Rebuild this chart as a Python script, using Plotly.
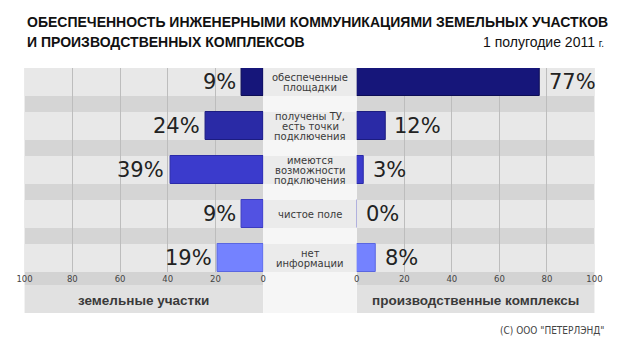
import plotly.graph_objects as go

# ---- data ----
categories = [
    ["обеспеченные", "площадки"],
    ["получены ТУ,", "есть точки", "подключения"],
    ["имеются", "возможности", "подключения"],
    ["чистое поле"],
    ["нет", "информации"],
]
land_plots = [9, 24, 39, 9, 19]          # земельные участки
industrial = [77, 12, 3, 0, 8]           # производственные комплексы
bar_colors = ["#16167a", "#2a2aa6", "#3b3bcc", "#5252e2", "#7482ff"]
line_colors = ["#0d0d55", "#1c1c80", "#2a2aa8", "#3c3cc0", "#5a66e0"]
tick_vals = [0, 20, 40, 60, 80, 100]
title_lines = ["ОБЕСПЕЧЕННОСТЬ ИНЖЕНЕРНЫМИ КОММУНИКАЦИЯМИ ЗЕМЕЛЬНЫХ УЧАСТКОВ",
               "И ПРОИЗВОДСТВЕННЫХ КОМПЛЕКСОВ"]
period = "1 полугодие 2011 <span style='font-size:10px'>г.</span>"
panel_names = ["земельные участки", "производственные комплексы"]
copyright_txt = '(C) ООО "ПЕТЕРЛЭНД"'

W, H = 620, 345
def px(x):
    return x / W
def py(y):
    return 1 - y / H

rows = list(range(len(categories)))
half = 0.318

fig = go.Figure()
fig.add_trace(go.Bar(y=rows, x=land_plots, orientation="h", width=2 * half,
                     marker=dict(color=bar_colors, line=dict(color=line_colors, width=1)),
                     xaxis="x", yaxis="y", hoverinfo="skip"))
fig.add_trace(go.Bar(y=rows, x=industrial, orientation="h", width=2 * half,
                     marker=dict(color=bar_colors, line=dict(color=line_colors, width=1)),
                     xaxis="x2", yaxis="y2", hoverinfo="skip"))

L0, L1, R0, R1 = 17, 262, 358, 602
TOP, BOT = 68, 272

axis_common = dict(tickvals=tick_vals, showgrid=True, gridcolor="#bdbdbd", gridwidth=1,
                   zeroline=False, showline=False, ticks="",
                   tickfont=dict(family="DejaVu Sans", size=8.5, color="#444"),
                   fixedrange=True)
yaxis_common = dict(range=[len(rows) - 1 + half, -half], showgrid=False, zeroline=False,
                    showticklabels=False, ticks="", fixedrange=True,
                    domain=[py(BOT), py(TOP)])

fig.update_layout(
    width=W, height=H, margin=dict(l=0, r=0, t=0, b=0),
    paper_bgcolor="white", plot_bgcolor="rgba(0,0,0,0)",
    showlegend=False, bargap=0,
    xaxis=dict(domain=[px(L0), px(L1)], range=[100, 0], anchor="y", **axis_common),
    xaxis2=dict(domain=[px(R0), px(R1)], range=[0, 100], anchor="y2", **axis_common),
    yaxis=dict(anchor="x", **yaxis_common),
    yaxis2=dict(anchor="x2", **yaxis_common),
)

shapes = []
for a, b in [(L0, L1), (R0, R1)]:
    shapes.append(dict(type="rect", xref="paper", yref="paper", x0=px(a), x1=px(b),
                       y0=py(BOT), y1=py(TOP), fillcolor="#d5d5d5", line_width=0, layer="below"))
    shapes.append(dict(type="rect", xref="paper", yref="paper", x0=px(a), x1=px(b),
                       y0=py(285), y1=py(BOT), fillcolor="#d3d3d3", line_width=0, layer="below"))
    shapes.append(dict(type="rect", xref="paper", yref="paper", x0=px(a), x1=px(b),
                       y0=py(313), y1=py(285), fillcolor="#e1e1e1", line_width=0, layer="below"))
shapes.append(dict(type="rect", xref="paper", yref="paper", x0=px(L1), x1=px(R0),
                   y0=py(313), y1=py(TOP), fillcolor="#f6f6f6", line_width=0, layer="below"))
for i in rows:
    for xr in ["x domain", "x2 domain"]:
        shapes.append(dict(type="rect", xref=xr, yref="y", x0=0, x1=1,
                           y0=i - half, y1=i + half, fillcolor="#e8e8e8",
                           line_width=0, layer="below"))
    shapes.append(dict(type="rect", xref="paper", yref="y", x0=px(L1), x1=px(R0),
                       y0=i - half, y1=i + half, fillcolor="#ebebeb",
                       line_width=0, layer="below"))
fig.update_layout(shapes=shapes)

ann = []
pct_font = dict(family="DejaVu Sans", size=21, color="#222")
for i in rows:
    ann.append(dict(x=land_plots[i], y=i, xref="x", yref="y", text=f"{land_plots[i]}%",
                    xanchor="right", yanchor="middle", xshift=-4, showarrow=False, font=pct_font))
    ann.append(dict(x=industrial[i], y=i, xref="x2", yref="y2", text=f"{industrial[i]}%",
                    xanchor="left", yanchor="middle", xshift=7, showarrow=False, font=pct_font))
    lines = categories[i]
    n = len(lines)
    for k, t in enumerate(lines):
        ann.append(dict(x=px((L1 + R0) / 2), y=i, xref="paper", yref="y", text=t,
                        xanchor="center", yanchor="middle", showarrow=False,
                        yshift=-(k - (n - 1) / 2) * 10 - 0.5,
                        font=dict(family="DejaVu Sans", size=10, color="#3a3a3a")))

title_font = dict(family="Liberation Sans, Arial", size=14, color="#111")
ann.append(dict(x=px(17), y=py(22), xref="paper", yref="paper", text=f"<b>{title_lines[0]}</b>",
                xanchor="left", yanchor="middle", showarrow=False, font=title_font))
ann.append(dict(x=px(17), y=py(42), xref="paper", yref="paper", text=f"<b>{title_lines[1]}</b>",
                xanchor="left", yanchor="middle", showarrow=False, font=title_font))
ann.append(dict(x=px(614), y=py(42), xref="paper", yref="paper", text=period,
                xanchor="right", yanchor="middle", showarrow=False,
                font=dict(family="Liberation Sans, Arial", size=14, color="#111")))
for name, (a, b) in zip(panel_names, [(L0, L1), (R0, R1)]):
    ann.append(dict(x=px((a + b) / 2), y=py(300), xref="paper", yref="paper",
                    text=f"<b>{name}</b>", xanchor="center", yanchor="middle", showarrow=False,
                    font=dict(family="Liberation Sans, Arial", size=13.5, color="#3a3a3a")))
ann.append(dict(x=px(614), y=py(330), xref="paper", yref="paper", text=copyright_txt,
                xanchor="right", yanchor="middle", showarrow=False,
                font=dict(family="DejaVu Sans Condensed, DejaVu Sans", size=10, color="#444")))
fig.update_layout(annotations=ann)

fig.write_html("out.html")
